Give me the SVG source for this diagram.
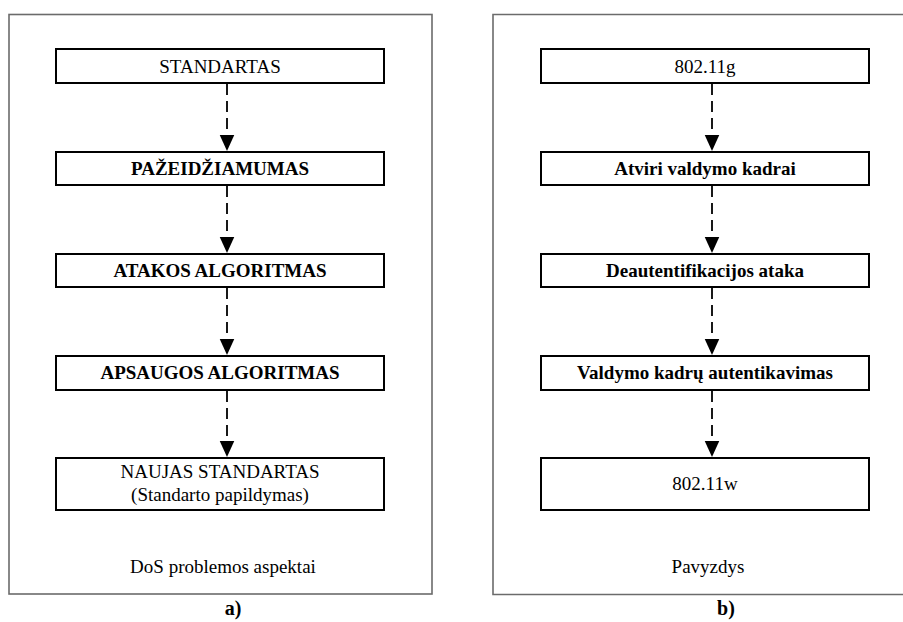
<svg xmlns="http://www.w3.org/2000/svg" width="903" height="622" viewBox="0 0 903 622">
  <style>
    .frame { fill: none; stroke: #6b6b6b; stroke-width: 1.6; }
    .box { fill: #ffffff; stroke: #000000; stroke-width: 2; }
    text { font-family: 'Liberation Serif', 'DejaVu Serif Condensed', 'DejaVu Serif', serif; fill: #000000; text-anchor: middle; }
    .t { font-size: 19px; }
    .b { font-weight: bold; }
    .cap { font-size: 20px; font-weight: bold; }
    .flow { stroke: #000000; stroke-width: 1.8; stroke-dasharray: 11 6; fill: none; marker-end: url(#head); }
  </style>
  <defs>
    <!-- solid arrowhead, points along the line direction -->
    <marker id="head" markerUnits="userSpaceOnUse" markerWidth="17" markerHeight="16" viewBox="0 0 17 16" refX="16.5" refY="8" orient="auto">
      <path d="M0 0.5 L16.5 8 L0 15.5 Z" fill="#000000"/>
    </marker>
  </defs>
  <rect width="903" height="622" fill="#ffffff"/>

  <!-- panel frames -->
  <g id="panel-a">
    <rect class="frame" x="9" y="14.5" width="423" height="579.5"/>
    <text class="t" x="223" y="573">DoS problemos aspektai</text>
    <text class="cap" x="233" y="615">a)</text>
  </g>
  <g id="panel-b">
    <path class="frame" d="M910 14.5 H493 V594.5 H910"/>
    <text class="t" x="708" y="573">Pavyzdys</text>
    <text class="cap" x="726" y="615">b)</text>
  </g>

  <!-- connectors -->
  <g id="connectors">
    <line class="flow" x1="227" y1="84" x2="227" y2="151"/>
    <line class="flow" x1="227" y1="186" x2="227" y2="253"/>
    <line class="flow" x1="227" y1="288" x2="227" y2="355"/>
    <line class="flow" x1="227" y1="391" x2="227" y2="457"/>
    <line class="flow" x1="712" y1="84" x2="712" y2="151"/>
    <line class="flow" x1="712" y1="186" x2="712" y2="253"/>
    <line class="flow" x1="712" y1="288" x2="712" y2="355"/>
    <line class="flow" x1="712" y1="391" x2="712" y2="457"/>
  </g>

  <!-- left column -->
  <g id="a-standartas">
    <rect class="box" x="56" y="49" width="328" height="34"/>
    <text class="t" x="220" y="72.5">STANDARTAS</text>
  </g>
  <g id="a-pazeidziamumas">
    <rect class="box" x="56" y="152" width="328" height="33"/>
    <text class="t b" x="220" y="175">PAŽEIDŽIAMUMAS</text>
  </g>
  <g id="a-atakos">
    <rect class="box" x="56" y="254" width="328" height="33"/>
    <text class="t b" x="220" y="277">ATAKOS ALGORITMAS</text>
  </g>
  <g id="a-apsaugos">
    <rect class="box" x="56" y="356" width="328" height="34"/>
    <text class="t b" x="220" y="379">APSAUGOS ALGORITMAS</text>
  </g>
  <g id="a-naujas">
    <rect class="box" x="56" y="458" width="328" height="52"/>
    <text class="t" x="220" y="478">NAUJAS STANDARTAS</text>
    <text class="t" x="220" y="501">(Standarto papildymas)</text>
  </g>

  <!-- right column -->
  <g id="b-80211g">
    <rect class="box" x="541" y="49" width="328" height="34"/>
    <text class="t" x="705" y="72.5">802.11g</text>
  </g>
  <g id="b-atviri">
    <rect class="box" x="541" y="152" width="328" height="33"/>
    <text class="t b" x="705" y="175">Atviri valdymo kadrai</text>
  </g>
  <g id="b-deautentifikacijos">
    <rect class="box" x="541" y="254" width="328" height="33"/>
    <text class="t b" x="705" y="277">Deautentifikacijos ataka</text>
  </g>
  <g id="b-valdymo">
    <rect class="box" x="541" y="356" width="328" height="34"/>
    <text class="t b" x="705" y="379">Valdymo kadrų autentikavimas</text>
  </g>
  <g id="b-80211w">
    <rect class="box" x="541" y="458" width="328" height="52"/>
    <text class="t" x="705" y="490">802.11w</text>
  </g>
</svg>
